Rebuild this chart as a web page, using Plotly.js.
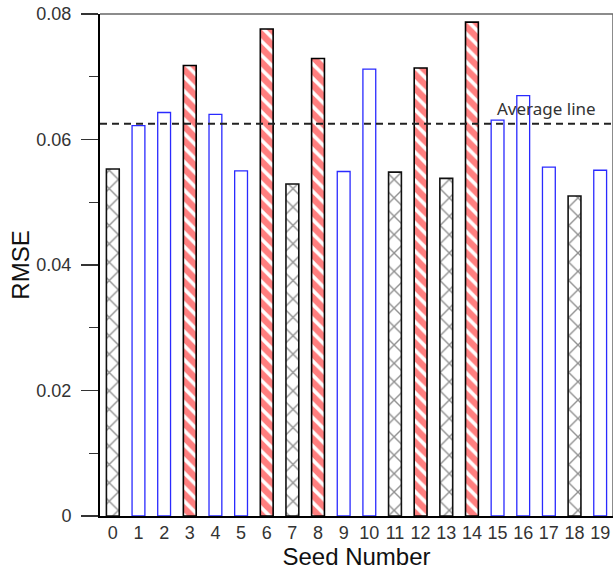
<!DOCTYPE html>
<html>
<head>
<meta charset="utf-8">
<script src="https://cdn.plot.ly/plotly-3.0.1.min.js"></script>
<style>html,body{margin:0;padding:0;background:#fff;}#chart{width:613px;height:570px;}</style>
</head>
<body>
<div id="chart"></div>
<script>
// Seed numbers and RMSE values
var seeds = [0,1,2,3,4,5,6,7,8,9,10,11,12,13,14,15,16,17,18,19];
var rmse = [0.0553,0.0622,0.0643,0.0718,0.0640,0.0550,0.0776,0.0529,0.0729,0.0549,
            0.0712,0.0548,0.0714,0.0538,0.0787,0.0631,0.0670,0.0556,0.0510,0.0551];
// group per seed: "high" = red hatched, "low" = cross hatched, "mid" = plain blue outline
var group = ["low","mid","mid","high","mid","mid","high","low","high","mid",
             "mid","low","high","low","high","mid","mid","mid","low","mid"];
var averageRmse = 0.0625;
var yTickVals = [0,0.02,0.04,0.06,0.08];
var yTickText = ["0","0.02","0.04","0.06","0.08"];
var xTickText = seeds.map(String);

function pick(g){
  var xs=[], ys=[];
  for (var i=0;i<seeds.length;i++){ if(group[i]===g){ xs.push(seeds[i]); ys.push(rmse[i]); } }
  return {x:xs, y:ys};
}
var mid = pick("mid"), high = pick("high"), low = pick("low");

var traces = [
  {type:'bar', x:mid.x, y:mid.y, width:0.5, hoverinfo:'skip',
   marker:{color:'#ffffff', line:{color:'#2a2aff', width:1.3}}},
  {type:'bar', x:high.x, y:high.y, width:0.5, hoverinfo:'skip',
   marker:{color:'#ffffff', line:{color:'#000000', width:1.6},
           pattern:{shape:'\\', fgcolor:'#ff0000', bgcolor:'#ffffff', size:10, solidity:0.65, fillmode:'overlay'}}},
  {type:'bar', x:low.x, y:low.y, width:0.5, hoverinfo:'skip',
   marker:{color:'#ffffff', line:{color:'#111111', width:1.6},
           pattern:{shape:'x', fgcolor:'#222222', bgcolor:'#ffffff', size:13, solidity:0.2, fillmode:'overlay'}}},
  {type:'scatter', mode:'lines', x:[-0.5,19.5], y:[averageRmse,averageRmse], hoverinfo:'skip',
   line:{color:'#222222', width:2, dash:'7px,5px'}}
];

var layout = {
  width:613, height:570,
  margin:{l:100, r:0, t:14, b:54, pad:0},
  paper_bgcolor:'#ffffff', plot_bgcolor:'#ffffff',
  showlegend:false,
  bargap:0.5,
  font:{family:'"Liberation Sans", Arial, sans-serif', color:'#222'},
  xaxis:{
    range:[-0.5,19.5], tickmode:'array', tickvals:seeds, ticktext:xTickText,
    ticks:'', showgrid:false, zeroline:false,
    showline:true, linecolor:'#000', linewidth:1.5,
    tickfont:{size:18, color:'#333'},
    title:{text:'Seed Number', font:{size:24, color:'#111'}, standoff:0}
  },
  yaxis:{
    range:[0,0.08], tickmode:'array', tickvals:yTickVals, ticktext:yTickText,
    ticks:'outside', ticklen:17, tickwidth:1.3, tickcolor:'#333',
    minor:{dtick:0.01, ticks:'outside', ticklen:9, tickwidth:1.3, tickcolor:'#333'},
    showgrid:false, zeroline:false,
    showline:true, linecolor:'#000', linewidth:2,
    tickfont:{size:18, color:'#333'},
    ticklabelstandoff:6,
    title:{text:'RMSE', font:{size:24, color:'#111'}, standoff:0}
  },
  shapes:[
    {type:'line', xref:'paper', yref:'paper', x0:0, x1:1, y0:1, y1:1, line:{color:'#666', width:1.5}},
    {type:'line', xref:'paper', yref:'paper', x0:1, x1:1, y0:0, y1:1, line:{color:'#666', width:1.5}}
  ],
  annotations:[
    {xref:'x', yref:'y', x:16.9, y:0.0650, text:'Average line', showarrow:false,
     font:{family:'"Noto Sans", "Open Sans", sans-serif', size:17, color:'#333'}}
  ]
};

Plotly.newPlot('chart', traces, layout, {staticPlot:true, displayModeBar:false});
</script>
</body>
</html>
